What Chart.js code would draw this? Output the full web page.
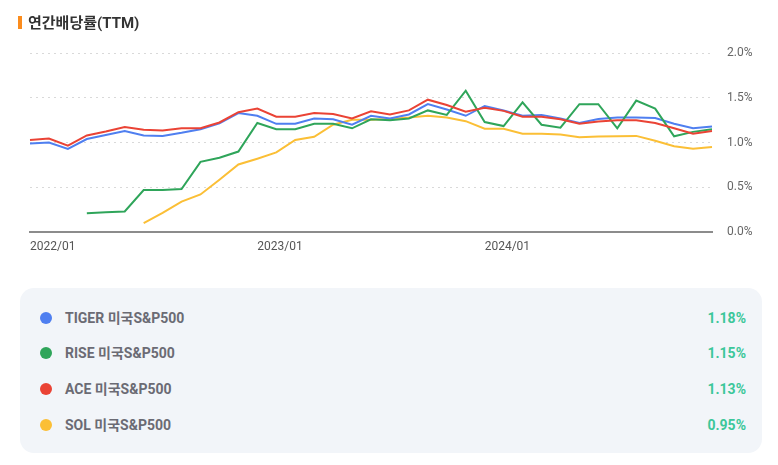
<!DOCTYPE html>
<html>
<head>
<meta charset="utf-8">
<script src="https://cdn.jsdelivr.net/npm/chart.js@4.4.1/dist/chart.umd.min.js"></script>
<style>
  body { margin:0; background:#fff; font-family: Roboto, "Noto Sans CJK KR", sans-serif; }
  #wrap { position:relative; width:778px; height:465px; overflow:hidden; }
  #title { position:absolute; left:18px; top:13px; font-size:15px; font-weight:700; color:#333; line-height:20px; z-index:2; }
  #title .bar { display:inline-block; width:4px; height:13px; background:#fb8c1d; margin-right:6px; vertical-align:-1px; }
  #chartBox { position:absolute; left:0; top:31px; width:778px; height:239px; }
  #legend { position:absolute; left:20px; top:288px; width:742px; height:165px; background:#f2f5f9; border-radius:14px; }
  .row { position:absolute; left:0; right:0; height:20px; font-size:14px; font-weight:700; line-height:20px; }
  .row .dot { position:absolute; left:20px; top:4px; width:12px; height:12px; border-radius:50%; }
  .row .name { position:absolute; left:45px; color:#6b6b74; }
  .row .val { position:absolute; right:16px; color:#3cc79a; }
</style>
</head>
<body>
<div id="wrap">
  <div id="title"><span class="bar"></span>연간배당률(TTM)</div>
  <div id="chartBox"><canvas id="lineChart"></canvas></div>
  <div id="legend"></div>
</div>
<script>
// monthly labels 2022/01 .. 2025/01
var months = ['2022/01','2022/02','2022/03','2022/04','2022/05','2022/06','2022/07','2022/08','2022/09','2022/10','2022/11','2022/12',
              '2023/01','2023/02','2023/03','2023/04','2023/05','2023/06','2023/07','2023/08','2023/09','2023/10','2023/11','2023/12',
              '2024/01','2024/02','2024/03','2024/04','2024/05','2024/06','2024/07','2024/08','2024/09','2024/10','2024/11','2024/12',
              '2025/01'];
var shownTicks = ['2022/01','2023/01','2024/01'];

var tigerData = [0.99,1.00,0.93,1.04,1.085,1.13,1.08,1.075,1.11,1.15,1.215,1.33,
                 1.30,1.21,1.21,1.27,1.26,1.20,1.30,1.27,1.315,1.43,1.37,1.30,
                 1.41,1.36,1.30,1.31,1.27,1.22,1.265,1.28,1.28,1.275,1.21,1.16,
                 1.18];
var riseData  = [null,null,null,0.21,0.22,0.23,0.47,0.47,0.48,0.785,0.83,0.90,
                 1.22,1.15,1.15,1.21,1.21,1.16,1.26,1.25,1.27,1.36,1.31,1.58,
                 1.23,1.185,1.45,1.20,1.167,1.43,1.43,1.16,1.47,1.38,1.07,1.12,
                 1.15];
var aceData   = [1.03,1.045,0.965,1.08,1.125,1.175,1.145,1.135,1.16,1.16,1.225,1.34,
                 1.38,1.29,1.29,1.33,1.32,1.27,1.35,1.315,1.36,1.48,1.42,1.345,
                 1.39,1.355,1.29,1.29,1.26,1.21,1.235,1.25,1.25,1.22,1.16,1.10,
                 1.13];
var solData   = [null,null,null,null,null,null,0.10,0.215,0.34,0.42,0.585,0.755,
                 0.82,0.89,1.03,1.065,1.20,1.255,1.255,1.265,1.28,1.30,1.28,1.24,
                 1.155,1.155,1.10,1.10,1.09,1.06,1.067,1.07,1.075,1.02,0.96,0.93,
                 0.95];

var names  = ['TIGER 미국S&P500','RISE 미국S&P500','ACE 미국S&P500','SOL 미국S&P500'];
var colors = ['#4f7ff0','#2fa55a','#ea4335','#fbbf36'];
var series = [tigerData, riseData, aceData, solData];
var drawOrder = [2, 1, 0, 3];

var datasets = [];
for (var i = 0; i < series.length; i++){
  datasets.push({
    label: names[i],
    data: series[i],
    borderColor: colors[i],
    backgroundColor: colors[i],
    borderWidth: 2,
    pointRadius: 0,
    pointHoverRadius: 0,
    tension: 0,
    order: drawOrder[i]
  });
}

var ctx = document.getElementById('lineChart');
var lineChart = new Chart(ctx, {
  type: 'line',
  data: { labels: months, datasets: datasets },
  options: {
    responsive: true,
    maintainAspectRatio: false,
    animation: false,
    layout: { padding: { left: 30, top: 3, right: 0, bottom: 0 } },
    plugins: { legend: { display: false }, tooltip: { enabled: false } },
    scales: {
      x: {
        grid: { display: false, drawTicks: false },
        border: { display: true, color: '#8c8c8c', width: 2 },
        afterFit: function(scale){ scale.height = 38; },
        ticks: {
          autoSkip: false,
          maxRotation: 0,
          align: 'start',
          padding: 8,
          color: '#555',
          font: { family: 'Roboto', size: 12 },
          callback: function(val){
            var l = this.getLabelForValue(val);
            return shownTicks.indexOf(l) >= 0 ? l : null;
          }
        }
      },
      y: {
        position: 'right',
        min: 0,
        max: 2,
        afterFit: function(scale){ scale.width = 66; },
        grid: { color: '#d9d9d9', lineWidth: 1, drawTicks: false },
        border: { display: false, dash: [2, 4] },
        ticks: {
          stepSize: 0.5,
          padding: 15,
          color: '#666',
          font: { family: 'Roboto', size: 12 },
          callback: function(v){ return v.toFixed(1) + '%'; }
        }
      }
    }
  }
});

// legend rows with last values
var legend = document.getElementById('legend');
var rowTops = [20, 55, 91, 127];
for (var j = 0; j < series.length; j++){
  var last = series[j][series[j].length - 1];
  var row = document.createElement('div');
  row.className = 'row';
  row.style.top = rowTops[j] + 'px';
  row.innerHTML = '<span class="dot" style="background:' + colors[j] + '"></span>' +
                  '<span class="name">' + names[j] + '</span>' +
                  '<span class="val">' + last.toFixed(2) + '%</span>';
  legend.appendChild(row);
}
</script>
</body>
</html>
